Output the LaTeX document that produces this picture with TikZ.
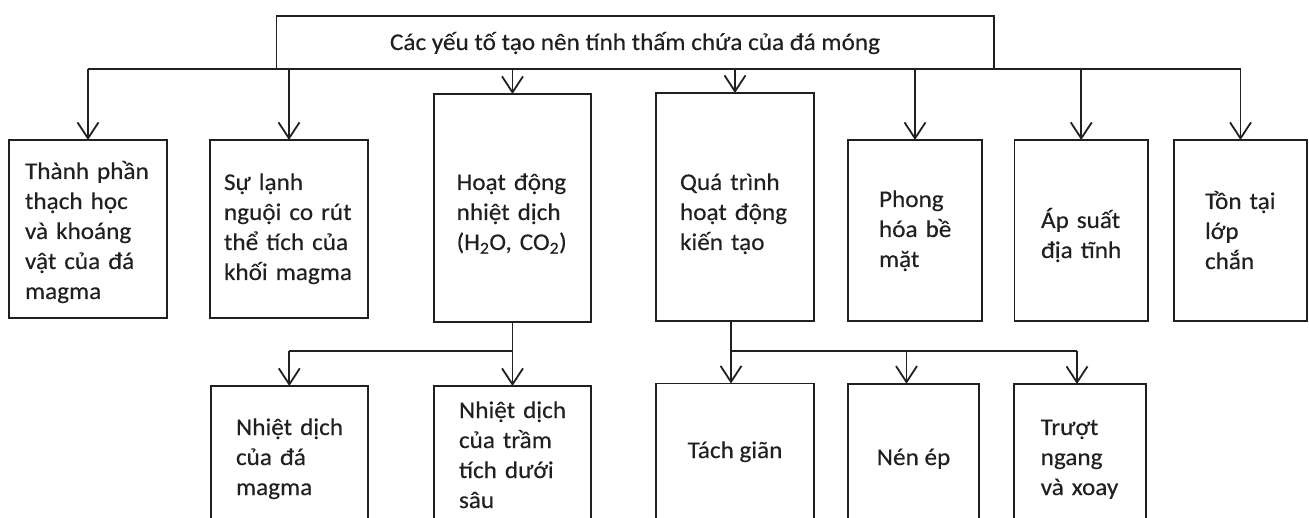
\documentclass[tikz,border=0pt]{standalone}
\usepackage{fontspec}
\setmainfont{Carlito}[FakeStretch=1.05,FakeBold=0.3]
\usetikzlibrary{arrows.meta,calc}
\definecolor{ink}{HTML}{231F20}
\begin{document}
\begin{tikzpicture}[x=1pt,y=-1pt,
  every node/.style={inner sep=0pt, outer sep=0pt},
  box/.style={draw=ink, line width=1.8pt, rectangle, anchor=north west},
  txt/.style={font=\fontsize{24}{30}\selectfont, text=ink, align=left,
              anchor=base west, text width=150pt},
  ctxt/.style={font=\fontsize{24}{30}\selectfont, text=ink, anchor=base},
  link/.style={draw=ink, line width=1.8pt},
  arr/.style={link, -{Straight Barb[length=16pt,width=21pt]}}]
\useasboundingbox (0,0) rectangle (1309,518);
\clip (0,0) rectangle (1309,518);

% top box
\node[box, minimum width=717.5pt, minimum height=53.3pt] (top) at (276.5,15.7) {};
\node[ctxt] (toptxt) at (635,50) {Các yếu tố tạo nên tính thấm chứa của đá móng};

% first row of boxes
\node[box, minimum width=158pt, minimum height=178pt] (b1) at (9,140) {};
\node[box, minimum width=158pt, minimum height=178pt] (b2) at (210,140) {};
\node[box, minimum width=157pt, minimum height=228pt] (b3) at (434,94) {};
\node[box, minimum width=158pt, minimum height=228pt] (b4) at (656,93) {};
\node[box, minimum width=134pt, minimum height=181pt] (b5) at (848,140) {};
\node[box, minimum width=133.5pt, minimum height=181pt] (b6) at (1014.5,140) {};
\node[box, minimum width=133pt, minimum height=181pt] (b7) at (1174,140) {};

\node[txt] (t1) at (25,179) {Thành phần\\thạch học\\và khoáng\\vật của đá\\magma};
\node[txt] (t2) at (224,190) {Sự lạnh\\nguội co rút\\thể tích của\\khối magma};
\node[txt] (t3) at (456.6,190) {Hoạt động\\nhiệt dịch\\(H\textsubscript{2}O, CO\textsubscript{2})};
\node[txt] (t4) at (680,190) {Quá trình\\hoạt động\\kiến tạo};
\node[txt] (t5) at (879,207) {Phong\\hóa bề\\mặt};
\node[txt] (t6) at (1041,228) {Áp suất\\địa tĩnh};
\node[txt] (t7) at (1205,209) {Tồn tại\\lớp\\chắn};

% second row of boxes (running off the lower edge)
\node[box, minimum width=157.4pt, minimum height=200pt] (c1) at (210.6,386) {};
\node[box, minimum width=157pt, minimum height=200pt] (c2) at (434,386) {};
\node[box, minimum width=158pt, minimum height=200pt] (c3) at (656,383.5) {};
\node[box, minimum width=131pt, minimum height=200pt] (c4) at (848,383.7) {};
\node[box, minimum width=132pt, minimum height=200pt] (c5) at (1014,384) {};

\node[txt] (u1) at (236,435) {Nhiệt dịch\\của đá\\magma};
\node[txt] (u2) at (459,418) {Nhiệt dịch\\của trầm\\tích dưới\\sâu};
\node[ctxt] (u3) at ($(c3.north)+(0,74.5)$) {Tách giãn};
\node[ctxt] (u4) at ($(c4.north)+(0,81.3)$) {Nén ép};
\node[txt] (u5) at (1040.7,435) {Trượt\\ngang\\và xoay};

% first-level connectors
\draw[link] (b1.north |- top.south) -- (b7.north |- top.south);
\foreach \b in {b1,b2,b3,b4,b5,b6,b7}
  \draw[arr] (\b.north |- top.south) -- (\b.north);

% second-level connectors
\coordinate (busA) at (b3.south |- 0,350.7);
\draw[link] (b3.south) -- (busA) -- (c1.north |- busA);
\draw[arr] (c1.north |- busA) -- (c1.north);
\draw[arr] (busA) -- (c2.north);

\coordinate (stemB) at ([xshift=-4pt]b4.south);
\coordinate (busB) at (stemB |- 0,350.7);
\coordinate (c3in) at ([xshift=-4pt]c3.north);
\coordinate (c4in) at ([xshift=-7pt]c4.north);
\coordinate (c5in) at ([xshift=-3pt]c5.north);
\draw[link] (stemB) -- (busB) -- (c5in |- busB);
\draw[arr] (busB) -- (c3in);
\draw[arr] (c4in |- busB) -- (c4in);
\draw[arr] (c5in |- busB) -- (c5in);
\end{tikzpicture}
\end{document}
